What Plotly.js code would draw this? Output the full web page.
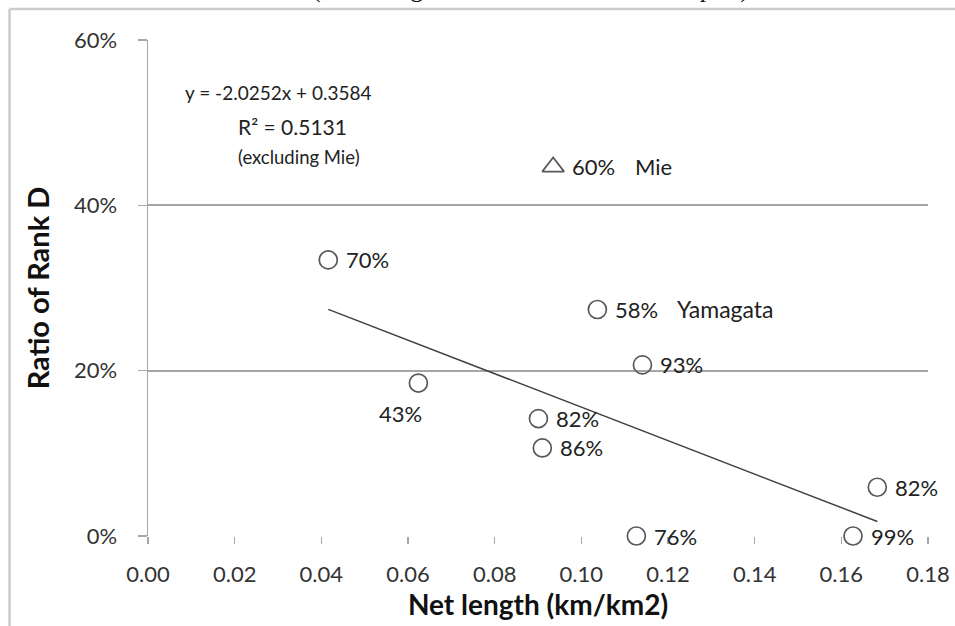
<!DOCTYPE html>
<html>
<head>
<meta charset="utf-8">
<script src="https://cdn.plot.ly/plotly-3.0.1.min.js"></script>
<style>html,body{margin:0;padding:0;background:#fff;}#chart{width:955px;height:626px;}</style>
</head>
<body>
<div id="chart"></div>
<script>
// Data
const netLength = [0.0416, 0.0624, 0.0901, 0.0910, 0.1037, 0.1141, 0.1127, 0.1627, 0.1683];
const rankD     = [0.334, 0.185, 0.142, 0.1065, 0.274, 0.207, 0.000, 0.000, 0.059];
const pctLabels = ['70%', '43%', '82%', '86%', '58%', '93%', '76%', '99%', '82%'];
const names     = ['', '', '', '', 'Yamagata', '', '', '', ''];
const mieX = [0.0935];
const mieY = [0.4465];
const mieLabel = ['60%'];
const mieName = ['Mie'];
const slope = -2.0252;
const intercept = 0.3584;
const r2 = 0.5131;
const yTickVals = [0, 0.2, 0.4, 0.6];
const yTickText = ['0%', '20%', '40%', '60%'];
const xTickVals = [0, 0.02, 0.04, 0.06, 0.08, 0.10, 0.12, 0.14, 0.16, 0.18];
const xTickText = ['0.00', '0.02', '0.04', '0.06', '0.08', '0.10', '0.12', '0.14', '0.16', '0.18'];

const FONT = 'Lato, "Open Sans", sans-serif';
const xMin = Math.min(...netLength), xMax = Math.max(...netLength);

const traces = [
  {x: [xMin, xMax], y: [slope * xMin + intercept, slope * xMax + intercept],
   mode: 'lines', line: {color: '#404040', width: 1.5}, hoverinfo: 'skip'},
  {x: netLength, y: rankD, mode: 'markers', cliponaxis: false,
   marker: {symbol: 'circle-open', size: 18, color: '#595959', line: {width: 1.7, color: '#595959'}}},
  {x: mieX, y: mieY, mode: 'markers', cliponaxis: false,
   marker: {symbol: 'triangle-up-open', size: 19, color: '#595959', line: {width: 1.7, color: '#595959'}}}
];

const annotations = [];
const lblFont = {family: FONT, size: 22, color: '#222'};
netLength.forEach((x, i) => {
  const below = i === 1;
  annotations.push(below ?
    {x: x, y: rankD[i], text: pctLabels[i], showarrow: false, xanchor: 'center', yanchor: 'middle',
     xshift: -18, yshift: -30, font: lblFont} :
    {x: x, y: rankD[i], text: pctLabels[i], showarrow: false, xanchor: 'left', yanchor: 'middle',
     xshift: 16, font: lblFont});
  if (names[i]) annotations.push({x: x, y: rankD[i], text: names[i], showarrow: false,
     xanchor: 'left', yanchor: 'middle', xshift: 78, font: {family: FONT, size: 23, color: '#222'}});
});
mieX.forEach((x, i) => {
  annotations.push({x: x, y: mieY[i], text: mieLabel[i], showarrow: false, xanchor: 'left',
    yanchor: 'middle', xshift: 17, font: lblFont});
  annotations.push({x: x, y: mieY[i], text: mieName[i], showarrow: false, xanchor: 'left',
    yanchor: 'middle', xshift: 80, font: lblFont});
});
annotations.push({xref: 'x', yref: 'y', x: 0.0080, y: 0.537, showarrow: false, xanchor: 'left',
  text: 'y = ' + slope.toFixed(4) + 'x + ' + intercept.toFixed(4), font: {family: FONT, size: 19, color: '#222'}});
annotations.push({xref: 'x', yref: 'y', x: 0.0204, y: 0.495, showarrow: false, xanchor: 'left',
  text: 'R² = ' + r2.toFixed(4), font: {family: FONT, size: 21, color: '#222'}});
annotations.push({xref: 'x', yref: 'y', x: 0.0204, y: 0.459, showarrow: false, xanchor: 'left',
  text: '(excluding Mie)', font: {family: FONT, size: 18.5, color: '#222'}});
annotations.push({xref: 'paper', yref: 'paper', x: 0.49, y: 1, yshift: 35, showarrow: false,
  xanchor: 'center', yanchor: 'bottom', text: '(excluding Mie from the trend of the plot)',
  font: {family: '"Liberation Serif", serif', size: 26, color: '#111'}});

const layout = {
  width: 955, height: 626,
  margin: {l: 147.5, r: 27, t: 40, b: 90},
  paper_bgcolor: '#fff', plot_bgcolor: '#fff',
  showlegend: false,
  font: {family: FONT, size: 16, color: '#333'},
  xaxis: {range: [0, 0.18], tickvals: xTickVals, ticktext: xTickText,
    showgrid: false, zeroline: false, showline: false,
    ticks: 'outside', ticklen: 7, tickcolor: '#a6a6a6', tickwidth: 1.5,
    ticklabelstandoff: 12,
    tickfont: {family: FONT, size: 22, color: '#333'},
    title: {text: 'Net length (km/km2)', font: {family: FONT, size: 28, color: '#111', weight: 'bold'}, standoff: 6}},
  yaxis: {range: [0, 0.6], tickvals: yTickVals, ticktext: yTickText,
    showgrid: true, gridcolor: '#a6a6a6', gridwidth: 1.7, zeroline: false,
    showline: true, linecolor: '#a6a6a6', linewidth: 1.5,
    ticks: 'outside', ticklen: 9, tickcolor: '#a6a6a6', tickwidth: 1.5,
    ticklabelstandoff: 16,
    tickfont: {family: FONT, size: 22, color: '#333'},
    title: {text: 'Ratio of Rank D', font: {family: FONT, size: 29, color: '#111', weight: 'bold'}, standoff: 16}},
  shapes: [
    {type: 'line', xref: 'paper', yref: 'paper', x0: -0.1775, x1: 1.05, y0: 1.0625, y1: 1.0625,
     line: {color: '#cccccc', width: 2.5}},
    {type: 'line', xref: 'paper', yref: 'paper', x0: -0.1775, x1: -0.1775, y0: -0.2, y1: 1.0625,
     line: {color: '#cccccc', width: 2.5}}
  ],
  annotations: annotations
};

Plotly.newPlot('chart', traces, layout, {staticPlot: true, displayModeBar: false});
</script>
</body>
</html>
